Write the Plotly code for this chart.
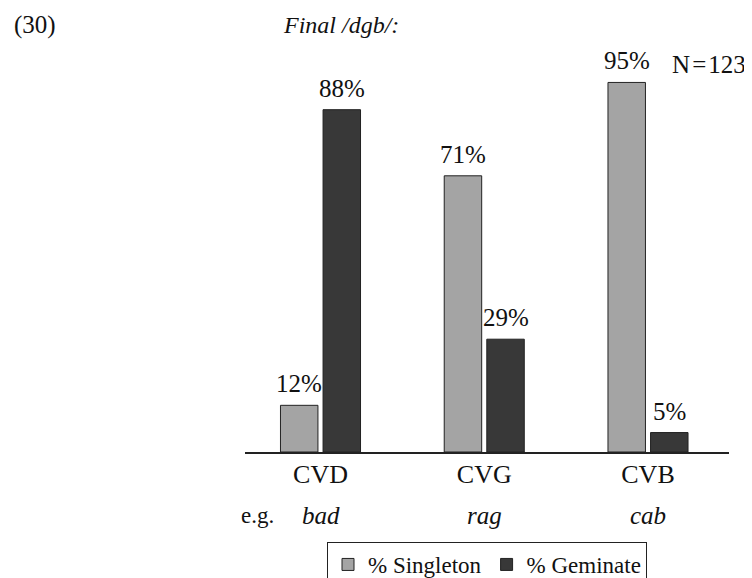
import plotly.graph_objects as go

categories = ["CVD", "CVG", "CVB"]
examples = ["bad", "rag", "cab"]
singleton = [12, 71, 95]
geminate = [88, 29, 5]
series_names = ["% Singleton", "% Geminate"]

# page offset (body margin) compensation
OFF = 8
W, H = 752 - OFF, 578 - OFF
# plot area in page pixels: x 245..729, y 63..452
X0, X1, Y0, Y1 = 245, 729, 63, 452
L = X0 - OFF
T = Y0 - OFF
R = W - (X1 - OFF)
B = H - (Y1 - OFF)
PW, PH = W - L - R, H - T - B

def px(x):
    return (x - OFF - L) / PW

def py(y):
    return (H - B - (y - OFF)) / PH

FONT = "Liberation Serif"
BARGAP, GROUPGAP = 0.48, 0.12
SP = 163.75  # px per category
BAR_SHIFT = (1 - BARGAP) * SP / 4  # centre offset of each bar in a group

fig = go.Figure()
fig.add_trace(go.Bar(
    x=categories, y=singleton, name=series_names[0],
    marker=dict(color="#a4a4a4", line=dict(color="#222222", width=1)),
))
fig.add_trace(go.Bar(
    x=categories, y=geminate, name=series_names[1],
    marker=dict(color="#383838", line=dict(color="#222222", width=1)),
))

annotations = []
for vals, sgn in ((singleton, -1), (geminate, 1)):
    for cat, v in zip(categories, vals):
        annotations.append(dict(text=f"{v}%", x=cat, xref="x", y=v, yref="y",
                                xshift=sgn * BAR_SHIFT, yshift=6,
                                xanchor="center", yanchor="bottom",
                                font=dict(size=25)))

annotations += [
    dict(text="(30)", x=px(12), y=py(25), xanchor="left", yanchor="middle",
         font=dict(size=25)),
    dict(text="<i>Final /dgb/:</i>", x=px(281), y=py(25), xanchor="left",
         yanchor="middle", font=dict(size=24)),
    dict(text="N\u200a=\u200a123", x=px(748), y=py(64), xanchor="right",
         yanchor="middle", font=dict(size=25)),
    dict(text="e.g.", x=px(239), y=py(515), xanchor="left", yanchor="middle",
         font=dict(size=23)),
]
for cat, ex in zip(categories, examples):
    annotations.append(dict(text=f"<i>{ex}</i>", x=cat, xref="x", y=py(515),
                            xanchor="center", yanchor="middle",
                            font=dict(size=25)))
for a in annotations:
    a.setdefault("xref", "paper")
    a.setdefault("yref", "paper")
    a["showarrow"] = False
    a["font"]["family"] = FONT
    a["font"]["color"] = "#111"

fig.update_layout(
    width=W, height=H,
    margin=dict(l=L, r=R, t=T, b=B, autoexpand=False),
    paper_bgcolor="white", plot_bgcolor="white",
    barmode="group", bargap=BARGAP, bargroupgap=GROUPGAP,
    font=dict(family=FONT, size=24, color="#111"),
    xaxis=dict(showline=True, linecolor="#222", linewidth=1.5,
               showgrid=False, ticks="", zeroline=False,
               range=[-(320.5 - X0) / SP, 2 + (X1 - 648) / SP],
               tickfont=dict(size=26), ticklabelstandoff=-2),
    yaxis=dict(visible=False, range=[0, 100]),
    legend=dict(orientation="h", x=px(487), xanchor="center", y=py(542),
                yanchor="top", bordercolor="#222", borderwidth=1,
                font=dict(size=23), itemwidth=30,
                traceorder="normal"),
    annotations=annotations,
    showlegend=True,
)

fig.write_html("out.html")
